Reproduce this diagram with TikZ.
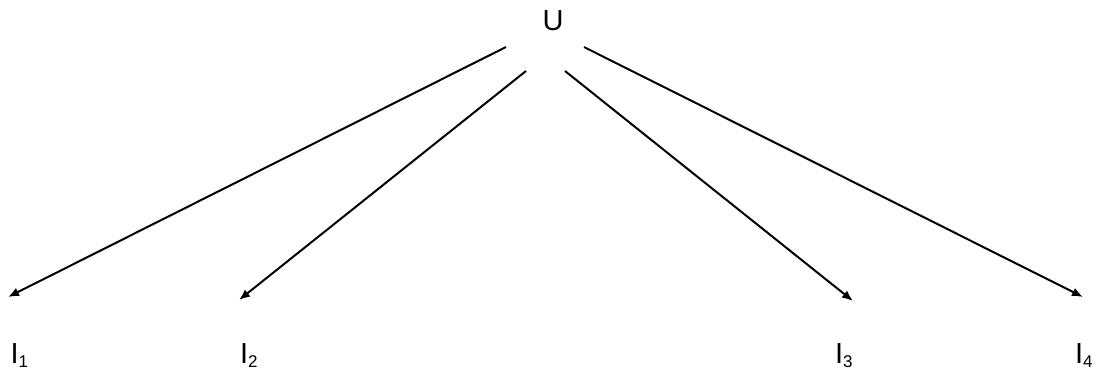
\documentclass[tikz,border=0pt]{standalone}
\usepackage{fontspec}
\setmainfont{Liberation Sans}
\usetikzlibrary{arrows.meta}
\tikzset{
  lbl/.style={inner sep=0pt, outer sep=0pt, font=\fontsize{29}{34}\selectfont},
  conn/.style={line width=2pt, -{Latex[length=11pt,width=9pt]}}
}
\newcommand{\mysub}[1]{\raisebox{-3pt}{\fontsize{17}{17}\selectfont #1}}
\begin{document}
\begin{tikzpicture}[x=1pt,y=-1pt]
\useasboundingbox (0,0) rectangle (1101,371);
\node[lbl, anchor=base] (U) at (553,31) {U};
\node[lbl, anchor=base west] (I1) at (10.5,364) {I\mysub{1}};
\node[lbl, anchor=base west] (I2) at (240,364) {I\mysub{2}};
\node[lbl, anchor=base west] (I3) at (835,364) {I\mysub{3}};
\node[lbl, anchor=base west] (I4) at (1075,364) {I\mysub{4}};
\coordinate (s1) at (506,47);
\coordinate (s2) at (526,71);
\coordinate (s3) at (565,71);
\coordinate (s4) at (584,47);
\coordinate (e1) at (8,297);
\coordinate (e2) at (239,300);
\coordinate (e3) at (853,301);
\coordinate (e4) at (1083,297);
\draw[conn] (s1) -- (e1);
\draw[conn] (s2) -- (e2);
\draw[conn] (s3) -- (e3);
\draw[conn] (s4) -- (e4);
\end{tikzpicture}
\end{document}
